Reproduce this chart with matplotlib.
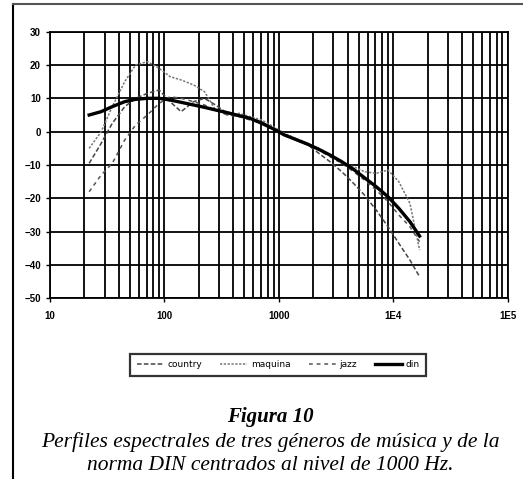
import matplotlib
matplotlib.use("Agg")
import matplotlib.pyplot as plt
from matplotlib.lines import Line2D
from matplotlib.ticker import LogLocator, FixedLocator, FixedFormatter

# frecuencias (Hz)
freq = [22, 28, 35, 45, 56, 71, 90, 112, 140, 180, 224, 280, 355, 450, 560,
        710, 900, 1120, 1400, 1800, 2240, 2800, 3550, 4500, 5600, 7100,
        9000, 11200, 14000, 17000]

# niveles relativos (dB) centrados en 1000 Hz
country = [-9.5, -3.5, 2.5, 7.5, 10, 11.5, 12.5, 9, 6, 9, 10, 8, 5.5, 4.5,
           4, 3, 1, -1, -2.5, -4, -6.5, -9, -12, -15.5, -19, -23.5, -28.5,
           -33.5, -38.5, -43.5]
maquina = [-5, 0, 7.5, 15, 20, 21, 19, 16.5, 15.5, 14, 12, 6.5, 5, 5.5, 4.5,
           3.5, 1.5, -0.5, -2, -3.5, -5, -7, -9.5, -10.5, -12, -12.5, -11.5,
           -15, -21.5, -35.5]
jazz = [-18, -13, -9.5, -2.5, 2, 5, 8.5, 10.5, 10, 9, 8, 6.5, 5, 4.5, 3.5,
        2.5, 0.5, -1, -2.5, -4, -5.5, -7.5, -9.5, -12, -14.5, -17.5, -21,
        -25, -28.5, -33]
din = [5, 6, 7.5, 9, 9.7, 10, 10, 9.5, 8.8, 8, 7.3, 6.5, 5.7, 4.8, 4, 2.5,
       0.8, -1, -2.3, -3.8, -5.3, -7, -9, -11.3, -13.8, -16.5, -19.5, -23,
       -27, -31.3]

xticks = [10, 100, 1000, 10000, 100000]
xlabels = ["10", "100", "1000", "1E4", "1E5"]
yticks = [30, 20, 10, 0, -10, -20, -30, -40, -50]

fig = plt.figure(figsize=(5.23, 4.79), dpi=100)
ax = fig.add_axes([0.0956, 0.377, 0.875, 0.557])

ax.plot(freq, country, color="#444444", lw=1.1, dashes=(3, 1.5), label="country")
ax.plot(freq, maquina, color="#777777", lw=1.1, dashes=(1.5, 1), label="maquina")
ax.plot(freq, jazz, color="#555555", lw=1.1, dashes=(2.5, 2.5), label="jazz")
ax.plot(freq, din, color="black", lw=2.4, label="din")

ax.set_xscale("log")
ax.set_xlim(10, 100000)
ax.set_ylim(-50, 30)
ax.xaxis.set_major_locator(FixedLocator(xticks))
ax.xaxis.set_major_formatter(FixedFormatter(xlabels))
ax.xaxis.set_minor_locator(LogLocator(base=10, subs=range(2, 10)))
ax.xaxis.set_minor_formatter(FixedFormatter([]))
ax.set_yticks(yticks)
ax.grid(True, which="both", axis="x", color="black", lw=1.3)
ax.grid(True, which="major", axis="y", color="black", lw=1.3)
ax.tick_params(axis="both", which="major", labelsize=7, length=3, width=1)
ax.tick_params(axis="x", which="minor", length=0)
ax.tick_params(axis="x", pad=6)
for lab in ax.get_xticklabels() + ax.get_yticklabels():
    lab.set_fontfamily("Liberation Sans")
    lab.set_fontweight("bold")
for s in ax.spines.values():
    s.set_linewidth(1.3)

leg = fig.legend(loc="center", bbox_to_anchor=(0.532, 0.238), ncol=4,
                 fontsize=6.5, frameon=True, fancybox=False, handlelength=3,
                 columnspacing=2.0, handletextpad=0.4, borderpad=0.7)
leg.get_frame().set_edgecolor("black")
leg.get_frame().set_linewidth(1.6)

fig.text(0.516, 0.129, "Figura 10", ha="center", va="center", fontsize=15,
         family="Liberation Serif", style="italic", weight="bold")
fig.text(0.516, 0.077, "Perfiles espectrales de tres géneros de música y de la",
         ha="center", va="center", fontsize=15.5, family="Liberation Serif",
         style="italic")
fig.text(0.516, 0.029, "norma DIN centrados al nivel de 1000 Hz.",
         ha="center", va="center", fontsize=15.5, family="Liberation Serif",
         style="italic")

# marco de la figura
fig.add_artist(Line2D([0.025, 0.025], [0, 0.992], color="black", lw=1.5))
fig.add_artist(Line2D([0.025, 1], [0.992, 0.992], color="#555555", lw=1.5))

fig.savefig("out.png", dpi=100)
